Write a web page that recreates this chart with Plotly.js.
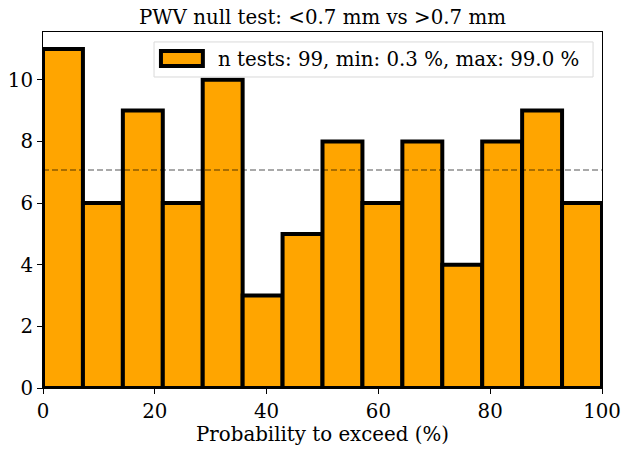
<!DOCTYPE html>
<html><head><meta charset="utf-8">
<script src="https://cdn.plot.ly/plotly-3.0.1.min.js"></script>
<style>html,body{margin:0;padding:0;background:#fff}</style>
</head><body>
<div id="chart" style="width:631px;height:451px"></div>
<script>
const counts = [11, 6, 9, 6, 10, 3, 5, 8, 6, 8, 4, 8, 9, 6];
const rangeMin = 0, rangeMax = 100;
const titleText = "PWV null test: <0.7 mm vs >0.7 mm";
const xTitle = "Probability to exceed (%)";
const legendText = "n tests: 99, min: 0.3 %, max: 99.0 %";
const xTicks = [0, 20, 40, 60, 80, 100];
const yTicks = [0, 2, 4, 6, 8, 10];

const nb = counts.length;
const w = (rangeMax - rangeMin) / nb;
const centers = counts.map((_, i) => rangeMin + w * (i + 0.5));
const total = counts.reduce((a, b) => a + b, 0);
const expected = total / nb;

const FS = 19.8;
const fnt = {family: "DejaVu Serif", size: FS, color: "#000"};

Plotly.newPlot("chart", [{
  type: "bar", x: centers, y: counts, width: w,
  marker: {color: "#FFA500", line: {color: "#000", width: 4}},
  name: legendText, showlegend: false, hoverinfo: "none"
}], {
  width: 631, height: 451,
  margin: {l: 43, r: 29, t: 32, b: 63},
  paper_bgcolor: "#fff", plot_bgcolor: "#fff",
  font: fnt,
  title: {text: titleText, font: fnt, x: 0.511, xanchor: "center", y: 0.962, yanchor: "middle"},
  xaxis: {range: [rangeMin, rangeMax], tickvals: xTicks, ticks: "outside", ticklen: 5, tickwidth: 1, tickcolor: "#000",
    showline: true, linecolor: "#000", linewidth: 1, mirror: true, showgrid: false, zeroline: false,
    tickfont: fnt, title: {text: xTitle, font: fnt, standoff: 4}},
  yaxis: {range: [0, 11.55], tickvals: yTicks, ticks: "outside", ticklen: 5, tickwidth: 1, tickcolor: "#000",
    showline: true, linecolor: "#000", linewidth: 1, mirror: true, showgrid: false, zeroline: false,
    tickfont: fnt},
  shapes: [
    {type: "line", xref: "paper", x0: 0, x1: 1, yref: "y", y0: expected, y1: expected,
      line: {color: "rgba(0,0,0,0.45)", width: 1.5, dash: "6px,3px"}, layer: "above"},
    {type: "rect", xref: "paper", yref: "paper", x0: 0.1986, x1: 0.984, y0: 0.8736, y1: 0.972,
      fillcolor: "rgba(255,255,255,0.8)", line: {color: "#d9d9d9", width: 1}, layer: "above"},
    {type: "rect", xref: "paper", yref: "paper", x0: 0.211, x1: 0.286, y0: 0.9045, y1: 0.9466,
      fillcolor: "#FFA500", line: {color: "#000", width: 4}, layer: "above"}
  ],
  annotations: [{xref: "paper", yref: "paper", x: 0.31, y: 0.924, xanchor: "left", yanchor: "middle",
    text: legendText, showarrow: false, font: fnt}],
  bargap: 0
}, {displayModeBar: false, staticPlot: true});
</script>
</body></html>
